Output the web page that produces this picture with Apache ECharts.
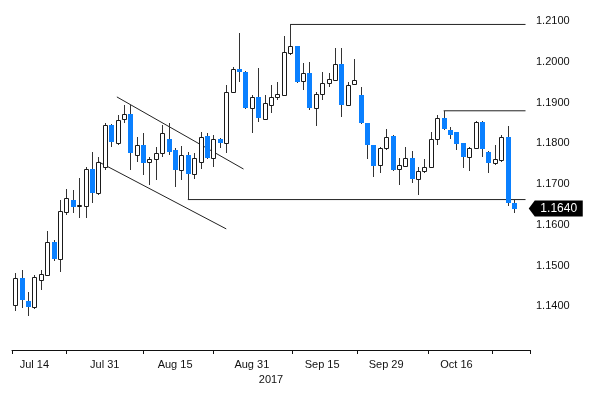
<!DOCTYPE html>
<html><head><meta charset="utf-8">
<script src="https://cdn.jsdelivr.net/npm/echarts@6/dist/echarts.min.js"></script>
<style>html,body{margin:0;padding:0;background:#fff}#c{width:600px;height:395px}</style>
</head><body><div id="c"></div>
<script>
// ---- data (EUR/USD daily, 2017) ----
const dates = [
 'Jul 11','Jul 12','Jul 13','Jul 14','Jul 17','Jul 18','Jul 19','Jul 20','Jul 21',
 'Jul 24','Jul 25','Jul 26','Jul 27','Jul 28','Jul 31','Aug 1','Aug 2','Aug 3','Aug 4',
 'Aug 7','Aug 8','Aug 9','Aug 10','Aug 11','Aug 14','Aug 15','Aug 16','Aug 17','Aug 18',
 'Aug 21','Aug 22','Aug 23','Aug 24','Aug 25','Aug 28','Aug 29','Aug 30','Aug 31','Sep 1',
 'Sep 4','Sep 5','Sep 6','Sep 7','Sep 8','Sep 11','Sep 12','Sep 13','Sep 14','Sep 15',
 'Sep 18','Sep 19','Sep 20','Sep 21','Sep 22','Sep 25','Sep 26','Sep 27','Sep 28','Sep 29',
 'Oct 2','Oct 3','Oct 4','Oct 5','Oct 6','Oct 9','Oct 10','Oct 11','Oct 12','Oct 13',
 'Oct 16','Oct 17','Oct 18','Oct 19','Oct 20','Oct 23','Oct 24','Oct 25','Oct 26','Oct 27',
 'Oct 30','Oct 31'
];
const opens = [
 1.1402,1.1469,1.1414,1.1397,1.1465,1.1477,1.1558,1.1517,1.1631,
 1.1661,1.1645,1.1647,1.1737,1.1678,1.1743,1.1845,1.1800,1.1859,1.1872,
 1.1772,1.1796,1.1755,1.1762,1.1776,1.1810,1.1784,1.1735,1.1772,1.1725,
 1.1755,1.1818,1.1765,1.1810,1.1802,1.1927,1.1982,1.1976,1.1886,1.1913,
 1.1859,1.1894,1.1914,1.1919,1.2022,1.2039,1.1954,1.1972,1.1886,1.1921,
 1.1949,1.1955,1.1996,1.1894,1.1946,1.1919,1.1851,1.1796,1.1747,1.1788,
 1.1818,1.1737,1.1745,1.1763,1.1712,1.1731,1.1741,1.1810,1.1862,1.1833,
 1.1827,1.1800,1.1766,1.1788,1.1853,1.1780,1.1751,1.1759,1.1815,1.1653
];
const closes = [
 1.1469,1.1416,1.1397,1.1472,1.1479,1.1558,1.1516,1.1633,1.1665,
 1.1643,1.1648,1.1737,1.1679,1.1755,1.1845,1.1804,1.1857,1.1872,1.1776,
 1.1796,1.1753,1.1762,1.1776,1.1825,1.1780,1.1735,1.1772,1.1725,1.1763,
 1.1816,1.1763,1.1810,1.1800,1.1927,1.1982,1.1974,1.1886,1.1914,1.1862,
 1.1898,1.1914,1.1921,1.2025,1.2039,1.1951,1.1972,1.1886,1.1921,1.1947,
 1.1957,1.1996,1.1894,1.1943,1.1955,1.1849,1.1796,1.1745,1.1788,1.1816,
 1.1735,1.1746,1.1763,1.1712,1.1731,1.1741,1.1810,1.1862,1.1835,1.1821,
 1.1799,1.1766,1.1788,1.1853,1.1786,1.1751,1.1761,1.1815,1.1653,1.1640
];
const lows = [
 1.1388,1.1396,1.1375,1.1394,1.1441,1.1474,1.1512,1.1484,1.1624,
 1.1629,1.1616,1.1616,1.1653,1.1674,1.1735,1.1792,1.1796,1.1849,1.1735,
 1.1755,1.1723,1.1698,1.1710,1.1767,1.1772,1.1694,1.1710,1.1662,1.1712,
 1.1736,1.1761,1.1743,1.1788,1.1777,1.1924,1.1951,1.1884,1.1826,1.1853,
 1.1857,1.1874,1.1906,1.1916,1.2017,1.1948,1.1931,1.1882,1.1843,1.1906,
 1.1939,1.1954,1.1865,1.1892,1.1943,1.1847,1.1761,1.1718,1.1727,1.1784,
 1.1731,1.1698,1.1743,1.1702,1.1674,1.1727,1.1739,1.1796,1.1833,1.1810,
 1.1784,1.1739,1.1733,1.1785,1.1767,1.1727,1.1747,1.1755,1.1645,1.1629
];
const highs = [
 1.1482,1.1490,1.1436,1.1476,1.1488,1.1586,1.1562,1.1661,1.1687,
 1.1686,1.1715,1.1743,1.1780,1.1767,1.1849,1.1847,1.1870,1.1894,1.1894,
 1.1816,1.1825,1.1767,1.1792,1.1845,1.1849,1.1788,1.1794,1.1780,1.1776,
 1.1829,1.1825,1.1821,1.1812,1.1943,1.1988,1.2070,1.1978,1.1919,1.1984,
 1.1919,1.1943,1.1951,1.2063,1.2092,1.2040,1.1998,1.2000,1.1927,1.1976,
 1.1973,1.2033,1.2033,1.1951,1.2006,1.1939,1.1851,1.1796,1.1790,1.1835,
 1.1821,1.1763,1.1790,1.1782,1.1741,1.1761,1.1829,1.1870,1.1880,1.1841,
 1.1829,1.1801,1.1792,1.1856,1.1856,1.1782,1.1796,1.1821,1.1843,1.1660
];
const labelDates = ['Jul 14','Jul 31','Aug 15','Aug 31','Sep 15','Sep 29','Oct 16'];
// tick positions as band boundaries (category position, -0.5 = left edge of first day)
const tickPositions = [-0.5, 7.9, 20.0, 31.0, 43.3, 53.4, 64.5, 74.5, 80.5];
const yearLabel = '2017';
// annotation lines: [category position, price]
const channelTop = [[15.9, 1.1914], [35.7, 1.1737]];
const channelBottom = [[13.0, 1.1755], [33.0, 1.1590]];
const supportLine = [[27, 1.1662], [79.8, 1.1662]];
const highLine = [[43, 1.2092], [79.8, 1.2092]];
const midLine = [[67, 1.1880], [79.8, 1.1880]];
const lastPrice = 1.1640;

const FONT = "'Liberation Sans','Arial',sans-serif";
const UP_STROKE = '#1a1a1a', WICK = '#333', DOWN_FILL = '#0a80ff';

const candleData = opens.map((o, i) => [i, o, closes[i], lows[i], highs[i]]);

function renderCandle(params, api) {
  const i = api.value(0), o = api.value(1), c = api.value(2), l = api.value(3), h = api.value(4);
  const x = Math.round(api.coord([i, o])[0]);
  const yO = api.coord([i, o])[1], yC = api.coord([i, c])[1];
  const yL = Math.round(api.coord([i, l])[1]), yH = Math.round(api.coord([i, h])[1]);
  const top = Math.round(Math.min(yO, yC)), bot = Math.round(Math.max(yO, yC));
  const kids = [{type: 'line', shape: {x1: x + 0.5, y1: yH, x2: x + 0.5, y2: yL},
                 style: {stroke: WICK, lineWidth: 1}}];
  if (c >= o) {
    kids.push({type: 'rect', shape: {x: x - 1.5, y: top + 0.5, width: 4, height: Math.max(bot - top, 1)},
               style: {fill: '#fff', stroke: UP_STROKE, lineWidth: 1}});
  } else {
    kids.push({type: 'rect', shape: {x: x - 2, y: top, width: 5, height: Math.max(bot - top, 2)},
               style: {fill: DOWN_FILL}});
  }
  return {type: 'group', children: kids};
}

// ticks drawn below the axis line through the value x-axis scale
function renderTick(params, api) {
  const p = api.coord([api.value(0), 1.13]);
  const x = Math.round(p[0]) + 0.5;
  const y = Math.round(p[1]) + 3;
  return {type: 'line', shape: {x1: x, y1: y, x2: x, y2: y + 4}, style: {stroke: '#111', lineWidth: 1}};
}

function lineSeries(pts) {
  return {type: 'line', xAxisIndex: 1, yAxisIndex: 0, data: pts, symbol: 'none', silent: true,
          lineStyle: {color: '#222', width: 1}, animation: false, z: 3};
}

const chart = echarts.init(document.getElementById('c'), null, {renderer: 'canvas'});
const option = {
  animation: false,
  backgroundColor: '#fff',
  grid: {left: 12, right: 70, top: 11, bottom: 48},
  xAxis: [{
    type: 'category', data: dates, boundaryGap: true, offset: 3,
    axisLine: {lineStyle: {color: '#111', width: 1}},
    axisTick: {show: false},
    axisLabel: {interval: (idx, val) => labelDates.includes(val), margin: 9,
                color: '#111', fontFamily: FONT, fontSize: 11},
    name: yearLabel, nameLocation: 'middle', nameGap: 23,
    nameTextStyle: {color: '#111', fontFamily: FONT, fontSize: 11},
    splitLine: {show: false}
  }, {
    type: 'value', min: -0.5, max: dates.length - 0.5, show: false
  }],
  yAxis: [{
    type: 'value', position: 'right', min: 1.13, max: 1.2125, interval: 0.01,
    axisLine: {show: false}, axisTick: {show: false}, splitLine: {show: false},
    axisLabel: {margin: 6, color: '#111', fontFamily: FONT, fontSize: 11,
                showMinLabel: false, showMaxLabel: false,
                formatter: v => v.toFixed(4)}
  }],
  series: [
    {type: 'custom', xAxisIndex: 0, yAxisIndex: 0, renderItem: renderCandle,
     data: candleData, encode: {x: 0, y: [1, 2, 3, 4]}, z: 4, silent: true},
    {type: 'custom', xAxisIndex: 1, yAxisIndex: 0, renderItem: renderTick, clip: false,
     data: tickPositions.map(t => [t]), encode: {x: 0}, z: 5, silent: true},
    lineSeries(channelTop),
    lineSeries(channelBottom),
    lineSeries(supportLine),
    lineSeries(highLine),
    Object.assign(lineSeries(midLine), {
      markPoint: {
        silent: true,
        symbol: 'path://M0,8 L6,0 L54,0 L54,16 L6,16 Z',
        symbolSize: [54, 16], symbolKeepAspect: false, symbolOffset: [27, 0],
        itemStyle: {color: '#000'},
        label: {show: true, position: 'inside', offset: [3, 0], color: '#fff',
                fontFamily: FONT, fontSize: 12, formatter: () => lastPrice.toFixed(4)},
        data: [{coord: [80.3, lastPrice]}]
      }
    })
  ]
};
chart.setOption(option);
</script>
</body></html>
